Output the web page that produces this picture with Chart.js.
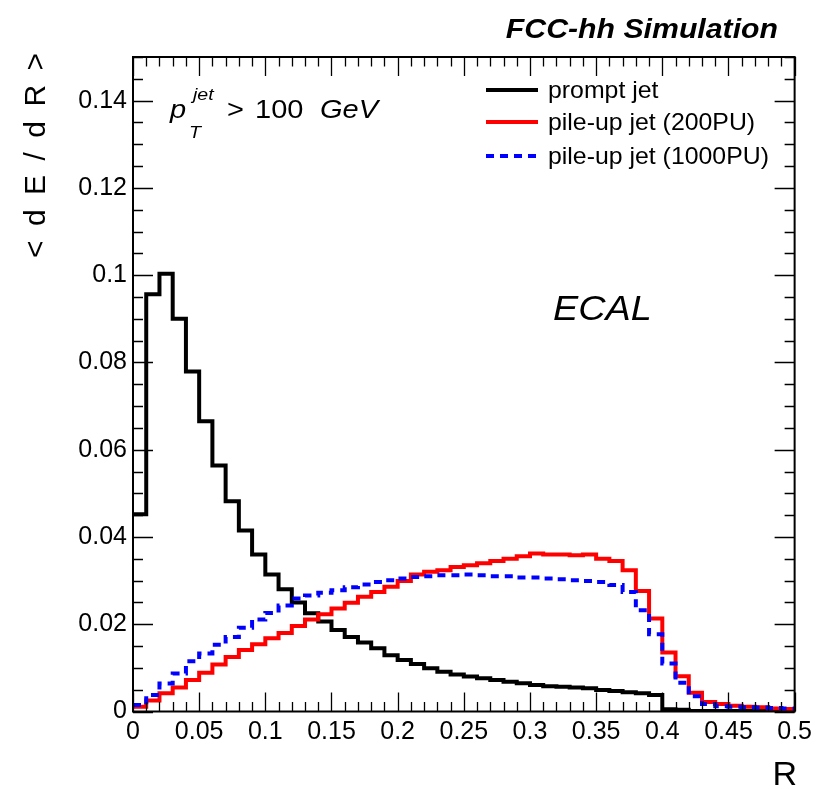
<!DOCTYPE html>
<html>
<head>
<meta charset="utf-8">
<script src="https://cdn.jsdelivr.net/npm/chart.js@4.4.0/dist/chart.umd.min.js"></script>
<style>
  html, body { margin: 0; padding: 0; background: #fff; }
</style>
</head>
<body>
<canvas id="myChart" width="818" height="789"></canvas>
<script>
// bin lower edges in R (bin width 0.01), last entry is the upper edge
const binEdges = [0, 0.01, 0.02, 0.03, 0.04, 0.05, 0.06, 0.07, 0.08, 0.09,
  0.1, 0.11, 0.12, 0.13, 0.14, 0.15, 0.16, 0.17, 0.18, 0.19,
  0.2, 0.21, 0.22, 0.23, 0.24, 0.25, 0.26, 0.27, 0.28, 0.29,
  0.3, 0.31, 0.32, 0.33, 0.34, 0.35, 0.36, 0.37, 0.38, 0.39,
  0.4, 0.41, 0.42, 0.43, 0.44, 0.45, 0.46, 0.47, 0.48, 0.49, 0.5];

// <dE/dR> per bin
const promptJet = [0.0452, 0.0956, 0.1003, 0.0900, 0.0779, 0.0665, 0.0564, 0.0482, 0.0415, 0.0360,
  0.0314, 0.0280, 0.0250, 0.0225, 0.0206, 0.0187, 0.0171, 0.0158, 0.0145, 0.0129,
  0.0118, 0.0109, 0.0099, 0.0091, 0.0085, 0.0080, 0.0076, 0.0072, 0.0068, 0.0065,
  0.0061, 0.0058, 0.0057, 0.0055, 0.0053, 0.0049, 0.0047, 0.0044, 0.0042, 0.0038,
  0.0005, 0.0004, 0.0001, 0.0001, 0.0001, 0.0001, 0.0001, 0.0001, 0.0001, 0.0001];

const pileup200 = [0.0011, 0.0025, 0.0042, 0.0055, 0.0072, 0.0089, 0.0108, 0.0125, 0.0141, 0.0154,
  0.0168, 0.0180, 0.0196, 0.0211, 0.0223, 0.0236, 0.0249, 0.0263, 0.0274, 0.0286,
  0.0299, 0.0314, 0.0320, 0.0324, 0.0331, 0.0335, 0.0340, 0.0345, 0.0350, 0.0356,
  0.0362, 0.0360, 0.0360, 0.0358, 0.0360, 0.0350, 0.0345, 0.0324, 0.0276, 0.0213,
  0.0135, 0.0081, 0.0043, 0.0022, 0.0017, 0.0013, 0.0011, 0.0010, 0.0007, 0.0006];

const pileup1000 = [0.0015, 0.0038, 0.0064, 0.0087, 0.0115, 0.0133, 0.0153, 0.0171, 0.0192, 0.0211,
  0.0226, 0.0243, 0.0259, 0.0266, 0.0272, 0.0278, 0.0285, 0.0291, 0.0297, 0.0301,
  0.0305, 0.0308, 0.0310, 0.0312, 0.0312, 0.0314, 0.0312, 0.0310, 0.0310, 0.0307,
  0.0307, 0.0305, 0.0303, 0.0301, 0.0299, 0.0297, 0.0290, 0.0274, 0.0232, 0.0177,
  0.0110, 0.0066, 0.0035, 0.0017, 0.0012, 0.0011, 0.0010, 0.0009, 0.0008, 0.0007];

const seriesNames = ["prompt jet", "pile-up jet (200PU)", "pile-up jet (1000PU)"];

const xTicks = [0, 0.05, 0.1, 0.15, 0.2, 0.25, 0.3, 0.35, 0.4, 0.45, 0.5];
const yTicks = [0, 0.02, 0.04, 0.06, 0.08, 0.1, 0.12, 0.14];

const FONT = '"Liberation Sans", Arial, Helvetica, sans-serif';

// histogram -> step points (upper edge repeats last bin)
function toSteps(values) {
  let pts = values.map((v, i) => ({ x: binEdges[i], y: v }));
  pts.push({ x: binEdges[values.length], y: values[values.length - 1] });
  return pts;
}

function fmt(v) {
  return String(+Number(v).toFixed(3));
}

// text with a horizontal stretch (ROOT fonts come out wider)
function sText(ctx, str, x, y, font, sx) {
  ctx.save();
  ctx.font = font;
  ctx.translate(x, y);
  ctx.scale(sx, 1);
  ctx.fillText(str, 0, 0);
  ctx.restore();
}

// y title: chars spread along the axis, like ROOT's spaced title
function yTitle(ctx, str, x, y, span, font) {
  ctx.save();
  ctx.font = font;
  ctx.textAlign = "left";
  ctx.translate(x, y);
  ctx.rotate(-Math.PI / 2);
  let chars = str.split("");
  let widths = chars.map(c => ctx.measureText(c).width);
  let total = widths.reduce((a, b) => a + b, 0);
  let gap = (span - total) / (chars.length - 1);
  let cx = 0;
  chars.forEach((c, i) => {
    ctx.fillText(c, cx, 0);
    cx += widths[i] + gap;
  });
  ctx.restore();
}

const decor = {
  id: "decor",
  afterDraw(chart) {
    const ctx = chart.ctx;
    const a = chart.chartArea;
    const xs = chart.scales.x;
    const ys = chart.scales.y;
    ctx.save();

    // ticks inside the frame, all four sides
    ctx.strokeStyle = "#000";
    ctx.lineWidth = 1.3;
    ctx.beginPath();
    for (let i = 0; i <= 50; i++) {
      let px = Math.round(xs.getPixelForValue(i / 100)) + 0.5;
      let len = i % 5 == 0 ? 19 : 9.5;
      ctx.moveTo(px, a.bottom); ctx.lineTo(px, a.bottom - len);
      ctx.moveTo(px, a.top); ctx.lineTo(px, a.top + len);
    }
    for (let i = 0; i <= 30; i++) {
      let py = Math.round(ys.getPixelForValue(i * 0.005)) + 0.5;
      let len = i % 4 == 0 ? 20 : 10;
      ctx.moveTo(a.left, py); ctx.lineTo(a.left + len, py);
      ctx.moveTo(a.right, py); ctx.lineTo(a.right - len, py);
    }
    ctx.stroke();

    // frame
    ctx.lineWidth = 2;
    ctx.strokeRect(a.left, a.top, a.right - a.left, a.bottom - a.top);

    ctx.fillStyle = "#000";
    ctx.textBaseline = "alphabetic";

    // title
    ctx.textAlign = "right";
    sText(ctx, "FCC-hh Simulation", 778, 38, "italic bold 28px " + FONT, 1.08);

    // x title
    sText(ctx, "R", 797, 785, "34px " + FONT, 1);

    // y title, rotated
    yTitle(ctx, "<dE/dR>", 45, 258, 205, "normal 30px " + FONT);

    // pT label
    ctx.textAlign = "left";
    const sx = 1.16;
    sText(ctx, "p", 170, 118, "italic 25px " + FONT, sx);
    sText(ctx, "jet", 193, 100, "italic 17px " + FONT, 1.15);
    sText(ctx, "T", 189, 138, "italic 17px " + FONT, 1.15);
    sText(ctx, ">", 227, 118, "25px " + FONT, sx);
    sText(ctx, "100", 255, 118, "25px " + FONT, sx);
    sText(ctx, "GeV", 320, 118, "italic 25px " + FONT, sx);

    // ECAL
    sText(ctx, "ECAL", 553, 320, "italic 35px " + FONT, 1.08);

    // legend
    const legY = [90, 122, 156];
    chart.data.datasets.forEach((ds, i) => {
      ctx.save();
      ctx.strokeStyle = ds.borderColor;
      ctx.lineWidth = ds.borderWidth;
      ctx.setLineDash(ds.borderDash || []);
      ctx.beginPath();
      ctx.moveTo(486, legY[i]);
      ctx.lineTo(538, legY[i]);
      ctx.stroke();
      ctx.restore();
      sText(ctx, ds.label, 548, legY[i] + 8, "24px " + FONT, 1.035);
    });

    ctx.restore();
  }
};

new Chart("myChart", {
  type: "line",
  data: {
    datasets: [
      {
        label: seriesNames[0],
        data: toSteps(promptJet),
        borderColor: "#000000",
        borderWidth: 4,
        stepped: "before",
        pointRadius: 0,
        order: 2
      },
      {
        label: seriesNames[1],
        data: toSteps(pileup200),
        borderColor: "#ff0000",
        borderWidth: 4,
        stepped: "before",
        pointRadius: 0,
        order: 1
      },
      {
        label: seriesNames[2],
        data: toSteps(pileup1000),
        borderColor: "#0000ff",
        borderWidth: 4,
        borderDash: [8, 6],
        stepped: "before",
        pointRadius: 0,
        order: 0
      }
    ]
  },
  options: {
    responsive: false,
    devicePixelRatio: 1,
    animation: false,
    layout: { padding: { left: 0, right: 21, top: 57, bottom: 0 } },
    plugins: {
      legend: { display: false },
      tooltip: { enabled: false }
    },
    scales: {
      x: {
        type: "linear",
        min: 0,
        max: 0.5,
        grid: { display: false, drawTicks: false },
        border: { display: false },
        afterBuildTicks: s => { s.ticks = xTicks.map(v => ({ value: v })); },
        afterFit: s => { s.height = 77.5; },
        ticks: {
          autoSkip: false,
          maxRotation: 0,
          padding: 6,
          color: "#000",
          font: { family: FONT, size: 25 },
          callback: v => fmt(v)
        }
      },
      y: {
        type: "linear",
        min: 0,
        max: 0.15,
        grid: { display: false, drawTicks: false },
        border: { display: false },
        afterBuildTicks: s => { s.ticks = yTicks.map(v => ({ value: v })); },
        afterFit: s => { s.width = 133; },
        ticks: {
          padding: 6,
          color: "#000",
          font: { family: FONT, size: 25 },
          callback: v => fmt(v)
        }
      }
    }
  },
  plugins: [decor]
});
</script>
</body>
</html>
